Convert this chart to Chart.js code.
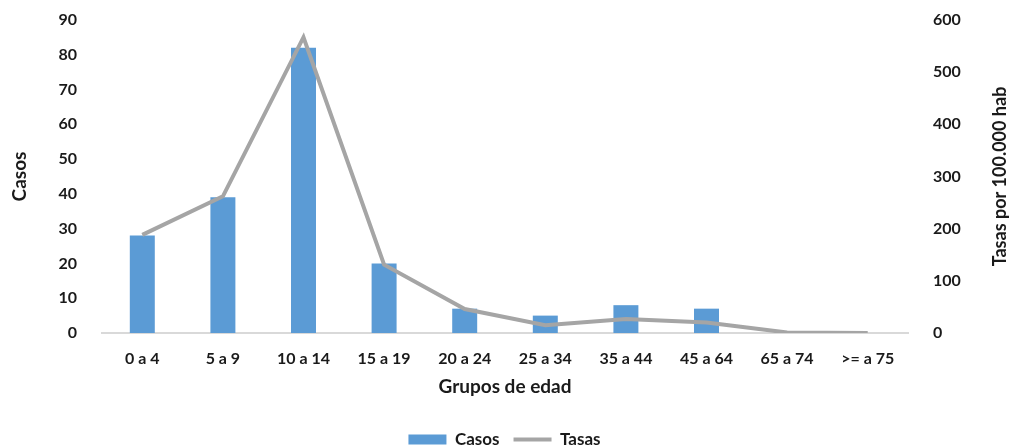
<!doctype html>
<html lang="es">
<head>
<meta charset="utf-8">
<title>Casos y tasas por grupos de edad</title>
<script src="https://cdn.jsdelivr.net/npm/chart.js"></script>
<style>
  html, body { margin: 0; padding: 0; background: #fff; }
  #wrap { width: 1009px; height: 448px; position: relative; }
</style>
</head>
<body>
<div id="wrap"><canvas id="grafico"></canvas></div>
<script>
const grupos = ["0 a 4", "5 a 9", "10 a 14", "15 a 19", "20 a 24", "25 a 34", "35 a 44", "45 a 64", "65 a 74", ">= a 75"];
const casos = [28, 39, 82, 20, 7, 5, 8, 7, 0, 0];
const tasas = [188, 262, 567, 131, 46, 15, 27, 20, 1, 0];
const casosTicks = [0, 10, 20, 30, 40, 50, 60, 70, 80, 90];
const tasasTicks = [0, 100, 200, 300, 400, 500, 600];

const fuente = "Lato, 'Open Sans', sans-serif";
const negro = "#1a1a1a";

// título del eje derecho, leído de abajo hacia arriba como en el original
const tituloDerecho = {
    id: "tituloDerecho",
    afterDraw(chart) {
        const ctx = chart.ctx;
        const area = chart.chartArea;
        ctx.save();
        ctx.translate(1000, (area.top + area.bottom) / 2);
        ctx.rotate(-Math.PI / 2);
        ctx.fillStyle = negro;
        ctx.font = "bold 18px " + fuente;
        ctx.textAlign = "center";
        ctx.textBaseline = "middle";
        ctx.fillText("Tasas por 100.000 hab", 0, 0);
        ctx.restore();
    }
};

new Chart(document.getElementById("grafico"), {
    data: {
        labels: grupos,
        datasets: [
            {
                type: "bar",
                label: "Casos",
                data: casos,
                yAxisID: "y",
                backgroundColor: "#5b9bd5",
                barPercentage: 0.31,
                categoryPercentage: 1,
                pointStyle: "rect",
                order: 2
            },
            {
                type: "line",
                label: "Tasas",
                data: tasas,
                yAxisID: "y1",
                borderColor: "#a5a5a5",
                backgroundColor: "#a5a5a5",
                borderWidth: 4,
                pointRadius: 0,
                pointStyle: "line",
                tension: 0,
                order: 1
            }
        ]
    },
    options: {
        responsive: true,
        maintainAspectRatio: false,
        animation: false,
        layout: { padding: { top: 20, left: 0, right: 0, bottom: -10 } },
        plugins: {
            tooltip: { enabled: false },
            legend: {
                position: "bottom",
                labels: {
                    usePointStyle: true,
                    pointStyleWidth: 38,
                    boxHeight: 10,
                    padding: 14,
                    color: negro,
                    sort: (a, b) => a.datasetIndex - b.datasetIndex,
                    font: { family: fuente, size: 17, weight: "bold" }
                }
            }
        },
        scales: {
            x: {
                grid: { display: false, drawTicks: false },
                border: { color: "#d9d9d9", width: 2 },
                ticks: { color: negro, padding: 16, font: { family: fuente, size: 16, weight: "bold" } },
                title: {
                    display: true, text: "Grupos de edad", color: negro,
                    padding: { top: 10, bottom: 19 },
                    font: { family: fuente, size: 19, weight: "bold" }
                },
                afterFit: ax => { ax.height = 84; }
            },
            y: {
                position: "left",
                min: 0, max: 90,
                afterBuildTicks: ax => { ax.ticks = casosTicks.map(v => ({ value: v })); },
                grid: { display: false },
                border: { display: false },
                ticks: { color: negro, padding: 17, font: { family: fuente, size: 16, weight: "bold" } },
                title: {
                    display: true, text: "Casos", color: negro,
                    padding: { top: 8, bottom: 0 },
                    font: { family: fuente, size: 19, weight: "bold" }
                },
                afterFit: ax => { ax.width = 102; ax.paddingTop = 0; ax.paddingBottom = 0; }
            },
            y1: {
                position: "right",
                min: 0, max: 600,
                afterBuildTicks: ax => { ax.ticks = tasasTicks.map(v => ({ value: v })); },
                grid: { display: false },
                border: { display: false },
                ticks: { color: negro, padding: 17, font: { family: fuente, size: 16, weight: "bold" } },
                afterFit: ax => { ax.width = 101; ax.paddingTop = 0; ax.paddingBottom = 0; }
            }
        }
    },
    plugins: [tituloDerecho]
});
</script>
</body>
</html>
